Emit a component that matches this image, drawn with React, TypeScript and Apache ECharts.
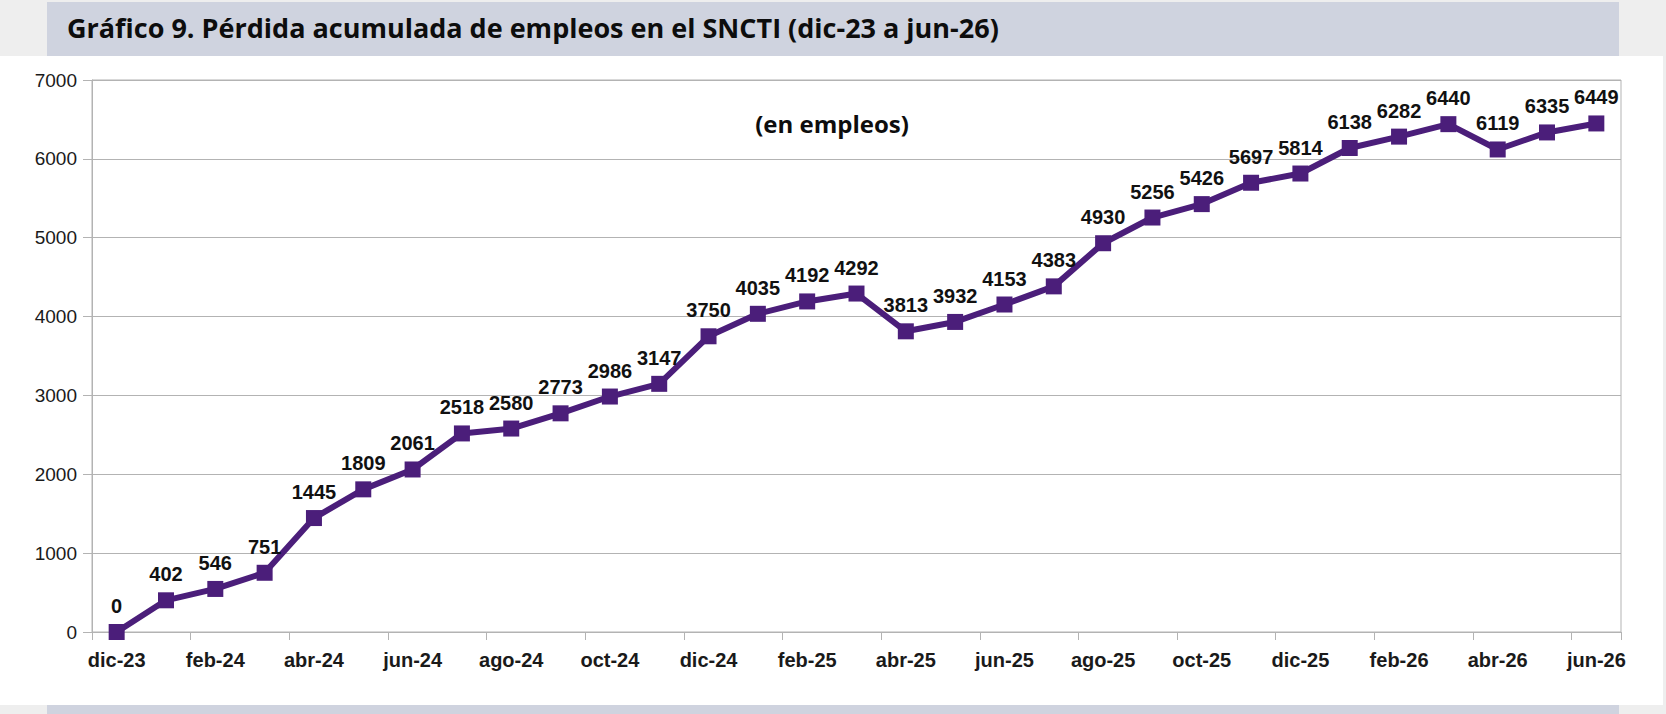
import { useEffect, useRef } from "react";
import * as echarts from "echarts";

const MONTHS = [
  "dic-23", "ene-24", "feb-24", "mar-24", "abr-24", "may-24", "jun-24", "jul-24",
  "ago-24", "sep-24", "oct-24", "nov-24", "dic-24", "ene-25", "feb-25", "mar-25",
  "abr-25", "may-25", "jun-25", "jul-25", "ago-25", "sep-25", "oct-25", "nov-25",
  "dic-25", "ene-26", "feb-26", "mar-26", "abr-26", "may-26", "jun-26",
];

const JOBS_LOST = [
  0, 402, 546, 751, 1445, 1809, 2061, 2518, 2580, 2773, 2986, 3147, 3750, 4035, 4192, 4292,
  3813, 3932, 4153, 4383, 4930, 5256, 5426, 5697, 5814, 6138, 6282, 6440, 6119, 6335, 6449,
];

const TITLE = "Gráfico 9. Pérdida acumulada de empleos en el SNCTI (dic-23 a jun-26)";
const UNITS = "(en empleos)";

const W = 1666;
const H = 714;
const BAND = "#cfd3df";
const EDGE = "#eeeeee";
const GRID_GREY = "#b3b3b3";
const PURPLE = "#4b1e7a";
const ARIAL = "'Liberation Sans', Arial, sans-serif";

export default function App() {
  const ref = useRef<HTMLDivElement>(null);

  useEffect(() => {
    if (!ref.current) return;
    const chart = echarts.init(ref.current, undefined, { renderer: "svg" });

    chart.setOption({
      animation: false,
      backgroundColor: "#ffffff",
      grid: {
        left: 92,
        right: W - 1621,
        top: 80,
        bottom: H - 632,
        show: true,
        borderColor: GRID_GREY,
        borderWidth: 1,
      },
      graphic: [
        { type: "rect", shape: { x: 0, y: 0, width: W, height: 2 }, style: { fill: EDGE } },
        { type: "rect", shape: { x: 0, y: 0, width: 47, height: 56 }, style: { fill: EDGE } },
        { type: "rect", shape: { x: 1619, y: 0, width: 47, height: 56 }, style: { fill: EDGE } },
        { type: "rect", shape: { x: 47, y: 2, width: 1572, height: 54 }, style: { fill: BAND } },
        { type: "rect", shape: { x: 1663, y: 56, width: 3, height: 649 }, style: { fill: EDGE } },
        { type: "rect", shape: { x: 0, y: 705, width: 47, height: 9 }, style: { fill: EDGE } },
        { type: "rect", shape: { x: 1619, y: 705, width: 47, height: 9 }, style: { fill: EDGE } },
        { type: "rect", shape: { x: 47, y: 705, width: 1572, height: 9 }, style: { fill: BAND } },
        {
          type: "text",
          x: 67,
          y: 27,
          style: {
            text: TITLE,
            font: "bold 27px 'Open Sans'",
            fill: "#0d0d0d",
            textVerticalAlign: "middle",
          },
        },
        {
          type: "text",
          x: 832,
          y: 123,
          style: {
            text: UNITS,
            font: "bold 24px 'Open Sans'",
            fill: "#0d0d0d",
            textAlign: "center",
            textVerticalAlign: "middle",
          },
        },
      ],
      xAxis: {
        type: "category",
        data: MONTHS,
        boundaryGap: true,
        axisLine: { show: true, lineStyle: { color: GRID_GREY } },
        axisTick: { show: true, interval: 1, length: 8, lineStyle: { color: GRID_GREY } },
        axisLabel: {
          interval: 1,
          margin: 18,
          fontFamily: ARIAL,
          fontSize: 20,
          fontWeight: "bold",
          color: "#1a1a1a",
        },
        splitLine: { show: false },
      },
      yAxis: {
        type: "value",
        min: 0,
        max: 7000,
        interval: 1000,
        axisLine: { show: true, lineStyle: { color: GRID_GREY } },
        axisTick: { show: true, length: 9, lineStyle: { color: GRID_GREY } },
        axisLabel: {
          margin: 15,
          fontFamily: ARIAL,
          fontSize: 19,
          color: "#1a1a1a",
          formatter: (v: number) => String(v),
        },
        splitLine: { show: true, lineStyle: { color: GRID_GREY, width: 1 } },
      },
      series: [
        {
          type: "line",
          data: JOBS_LOST,
          symbol: "rect",
          symbolSize: 16,
          lineStyle: { color: PURPLE, width: 6 },
          itemStyle: { color: PURPLE },
          label: {
            show: true,
            position: "top",
            distance: 8,
            fontFamily: ARIAL,
            fontSize: 20,
            fontWeight: "bold",
            color: "#111111",
          },
        },
      ],
    });

    return () => chart.dispose();
  }, []);

  return (
    <div
      ref={ref}
      style={{ position: "fixed", left: 0, top: 0, width: W, height: H }}
    />
  );
}
